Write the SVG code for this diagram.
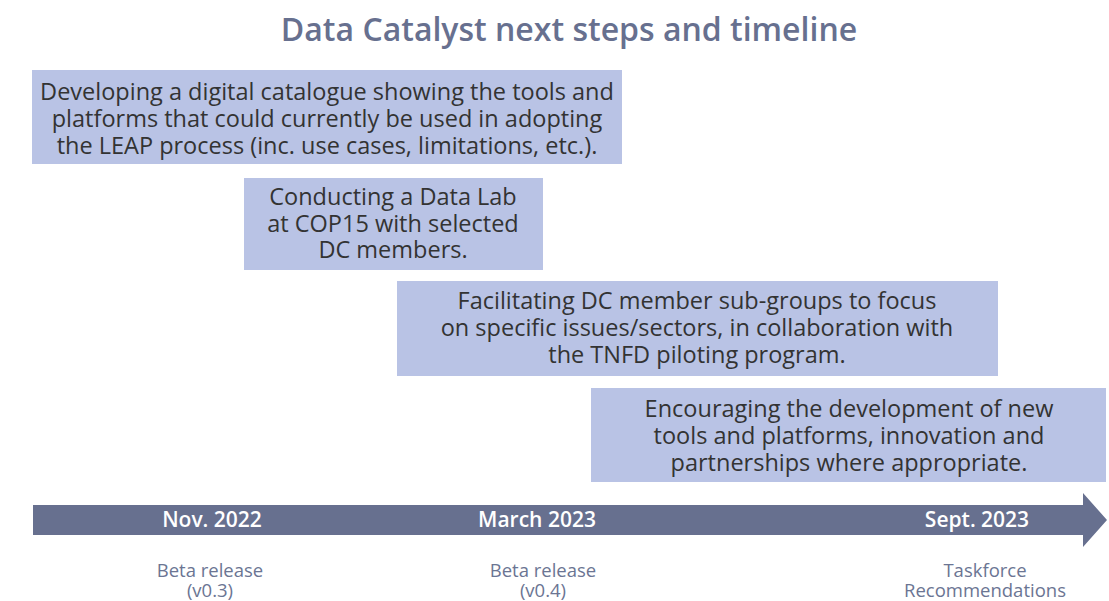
<svg xmlns="http://www.w3.org/2000/svg" width="1109" height="601" viewBox="0 0 1109 601">
<style>
.box{fill:#b9c3e5}
.bt{font-family:"Open Sans","Liberation Sans",sans-serif;font-size:23.5px;fill:#333333;text-anchor:middle}
.title{font-family:"Open Sans","Liberation Sans",sans-serif;font-size:32px;font-weight:600;fill:#67708f;text-anchor:middle}
.date{font-family:"Open Sans","Liberation Sans",sans-serif;font-size:21px;font-weight:600;fill:#ffffff;text-anchor:middle}
.sub{font-family:"Open Sans","Liberation Sans",sans-serif;font-size:18.5px;fill:#6b7593;text-anchor:middle}
</style>
<rect width="1109" height="601" fill="#ffffff"/>
<text class="title" x="569" y="41">Data Catalyst next steps and timeline</text>
<g id="node1">
<rect class="box" x="32" y="70" width="590" height="94"/>
<text class="bt" x="327" y="100">Developing a digital catalogue showing the tools and</text>
<text class="bt" x="327" y="127">platforms that could currently be used in adopting</text>
<text class="bt" x="327" y="154">the LEAP process (inc. use cases, limitations, etc.).</text>
</g>
<g id="node2">
<rect class="box" x="244" y="178" width="299" height="92"/>
<text class="bt" x="393" y="205">Conducting a Data Lab</text>
<text class="bt" x="393" y="232">at COP15 with selected</text>
<text class="bt" x="393" y="258">DC members.</text>
</g>
<g id="node3">
<rect class="box" x="397" y="281" width="601" height="95"/>
<text class="bt" x="697" y="309">Facilitating DC member sub-groups to focus</text>
<text class="bt" x="697" y="336">on specific issues/sectors, in collaboration with</text>
<text class="bt" x="697" y="363">the TNFD piloting program.</text>
</g>
<g id="node4">
<rect class="box" x="591" y="388" width="515" height="94"/>
<text class="bt" x="849" y="417">Encouraging the development of new</text>
<text class="bt" x="849" y="444">tools and platforms, innovation and</text>
<text class="bt" x="849" y="471">partnerships where appropriate.</text>
</g>
<g id="timeline">
<polygon points="33,505 1083,505 1083,493 1107,520 1083,547 1083,535 33,535" fill="#67708f"/>
<text class="date" x="212" y="527">Nov. 2022</text>
<text class="date" x="537" y="527">March 2023</text>
<text class="date" x="977" y="527">Sept. 2023</text>
</g>
<g id="labels">
<text class="sub" x="210" y="577">Beta release</text>
<text class="sub" x="210" y="597">(v0.3)</text>
<text class="sub" x="543" y="577">Beta release</text>
<text class="sub" x="543" y="597">(v0.4)</text>
<text class="sub" x="985" y="577">Taskforce</text>
<text class="sub" x="985" y="597">Recommendations</text>
</g>
</svg>
